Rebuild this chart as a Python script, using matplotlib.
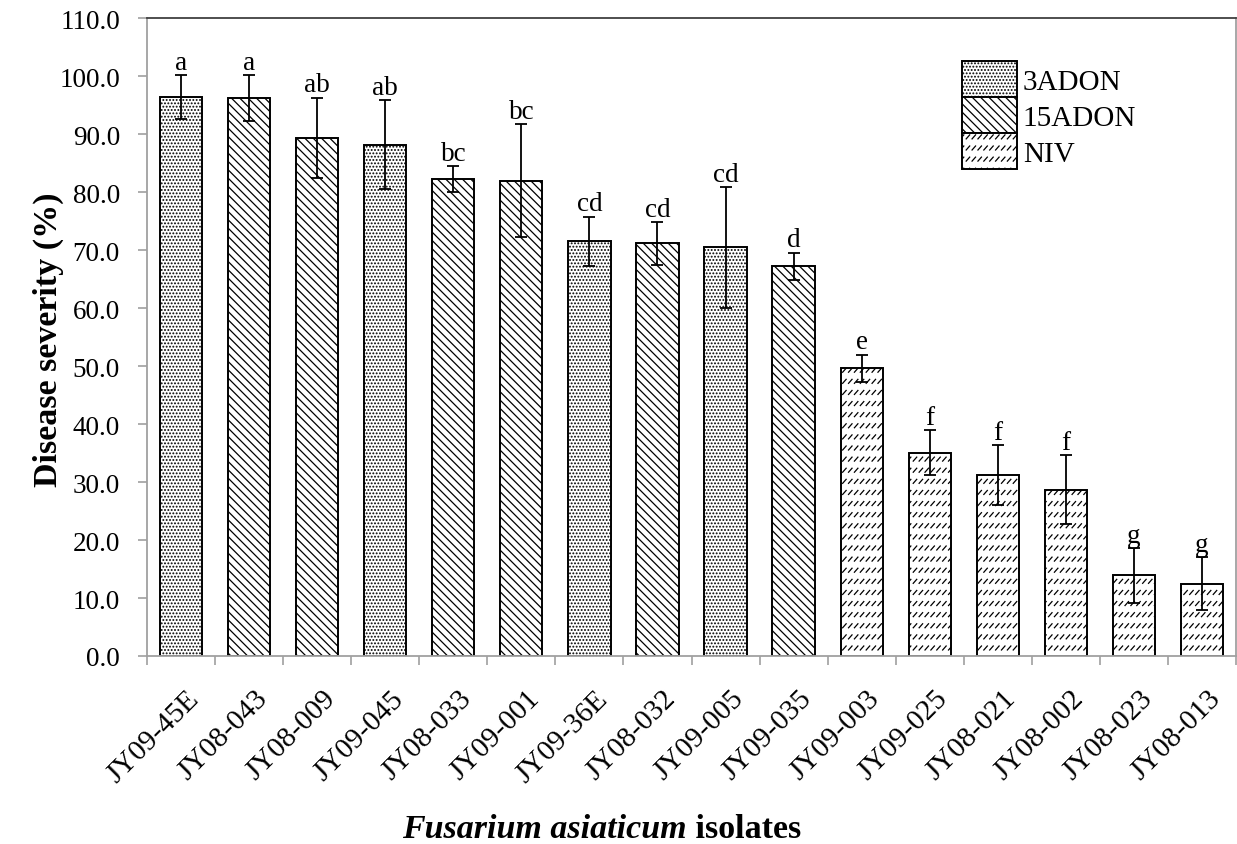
import warnings
warnings.filterwarnings('ignore')
import matplotlib
matplotlib.use('Agg')
import matplotlib.pyplot as plt
import matplotlib.hatch as mhatch
from matplotlib.path import Path
from matplotlib.patches import Patch
from matplotlib.transforms import ScaledTranslation
import numpy as np

# ---------------- data ----------------
isolates = ['JY09-45E', 'JY08-043', 'JY08-009', 'JY09-045', 'JY08-033', 'JY09-001',
            'JY09-36E', 'JY08-032', 'JY09-005', 'JY09-035', 'JY09-003', 'JY09-025',
            'JY08-021', 'JY08-002', 'JY08-023', 'JY08-013']
severity = [96.4, 96.2, 89.4, 88.2, 82.3, 82.0, 71.5, 71.2, 70.5, 67.2,
            49.6, 35.1, 31.2, 28.7, 13.9, 12.5]
std_err = [3.8, 4.0, 6.9, 7.7, 2.2, 9.8, 4.3, 3.7, 10.4, 2.4,
           2.4, 3.8, 5.2, 6.0, 4.7, 4.5]
letters = ['a', 'a', 'ab', 'ab', 'bc', 'bc', 'cd', 'cd', 'cd', 'd',
           'e', 'f', 'f', 'f', 'g', 'g']
chemotype = ['3ADON', '15ADON', '15ADON', '3ADON', '15ADON', '15ADON', '3ADON',
             '15ADON', '3ADON', '15ADON', 'NIV', 'NIV', 'NIV', 'NIV', 'NIV', 'NIV']
chemotypes = ['3ADON', '15ADON', 'NIV']
y_ticks = [0, 10, 20, 30, 40, 50, 60, 70, 80, 90, 100, 110]


# ------------- custom hatch: rows of short slashes (NIV) -------------
class ShortSlashHatch(mhatch.HatchPatternBase):
    def __init__(self, hatch, density):
        self.on = 'n' in hatch
        self.rows = 9
        self.cols = 17
        self.num_vertices = self.rows * self.cols * 2 if self.on else 0

    def set_vertices_and_codes(self, vertices, codes):
        k = 0
        for r in range(self.rows):
            yy = (r + 0.5) / self.rows
            for c in range(self.cols):
                xx = (c + 0.25) / self.cols
                vertices[k] = (xx, yy)
                vertices[k + 1] = (xx + 0.035, yy + 0.04)
                codes[k] = Path.MOVETO
                codes[k + 1] = Path.LINETO
                k += 2


mhatch._hatch_types.append(ShortSlashHatch)

hatch_style = {'3ADON': '.....', '15ADON': '\\\\\\\\', 'NIV': 'n'}

plt.rcParams['font.family'] = ['Liberation Serif', 'DejaVu Serif']
plt.rcParams['hatch.linewidth'] = 0.9
plt.rcParams['hatch.color'] = 'black'

W, H = 1237, 845
fig = plt.figure(figsize=(W / 100, H / 100), dpi=100)
ax = fig.add_axes([147 / W, 1 - 657 / H, (1236 - 147) / W, (657 - 19.3) / H])

x = np.arange(len(isolates))
bars = ax.bar(x, severity, width=0.62, color='white', edgecolor='black',
              linewidth=1.4, zorder=2)
for b, c in zip(bars, chemotype):
    b.set_hatch(hatch_style[c])

ax.errorbar(x, severity, yerr=std_err, fmt='none', ecolor='black',
            elinewidth=1.3, capsize=4.5, capthick=1.3, zorder=3)

for xi, v, e, lab in zip(x, severity, std_err, letters):
    ax.annotate(lab, (xi, v + e), xytext=(0, 4.5), textcoords='offset points',
                ha='center', va='baseline', fontsize=19.5)

ax.set_xlim(-0.5, len(isolates) - 0.5)
ax.set_ylim(0, 110)
ax.set_yticks(y_ticks)
ax.set_yticklabels([f'{t:.1f}' for t in y_ticks], fontsize=19.5)
ax.tick_params(axis='y', length=6.5, width=1.2, color='#a0a0a0', pad=13)

ax.set_xticks(x)
ax.set_xticklabels(isolates, fontsize=21, rotation=45, ha='right',
                   va='top', rotation_mode='anchor')
ax.set_xticks(np.arange(len(isolates) + 1) - 0.5, minor=True)
ax.tick_params(axis='x', which='major', length=0, pad=21)
ax.tick_params(axis='x', which='minor', length=6.5, width=1.2, color='#a0a0a0')
offset = ScaledTranslation(5 / 100, 0, fig.dpi_scale_trans)
for lbl in ax.get_xticklabels():
    lbl.set_transform(lbl.get_transform() + offset)

for side in ['left', 'bottom', 'right']:
    ax.spines[side].set_color('#a0a0a0')
    ax.spines[side].set_linewidth(1.3)
ax.spines['top'].set_color('#404040')
ax.spines['top'].set_linewidth(1.3)

# axis titles
fig.text(57 / W, 1 - 340 / H, 'Disease severity (%)', rotation=90,
         rotation_mode='anchor', ha='center', va='baseline',
         fontsize=24.5, fontweight='bold')
t1 = fig.text(402 / W, 1 - 838 / H, 'Fusarium asiaticum', ha='left',
              va='baseline', fontsize=24.5, fontweight='bold', style='italic')
ax.annotate(' isolates', xy=(1, 0), xycoords=t1, xytext=(0, 0),
            textcoords='offset points', ha='left', va='bottom',
            fontsize=24.5, fontweight='bold', annotation_clip=False)

# legend
handles = [Patch(facecolor='white', edgecolor='black', linewidth=1.4,
                 hatch=hatch_style[c], label=c) for c in chemotypes]
fs = 21
fpx = fs * 100 / 72
fig.legend(handles=handles, loc='upper left',
           bbox_to_anchor=(962 / W, 1 - 62 / H), frameon=False, fontsize=fs,
           borderpad=0, borderaxespad=0, labelspacing=0,
           handlelength=55 / fpx, handleheight=(36 / fpx - 0.245) / 0.65,
           handletextpad=0.2)

fig.savefig('out.png', dpi=100)
